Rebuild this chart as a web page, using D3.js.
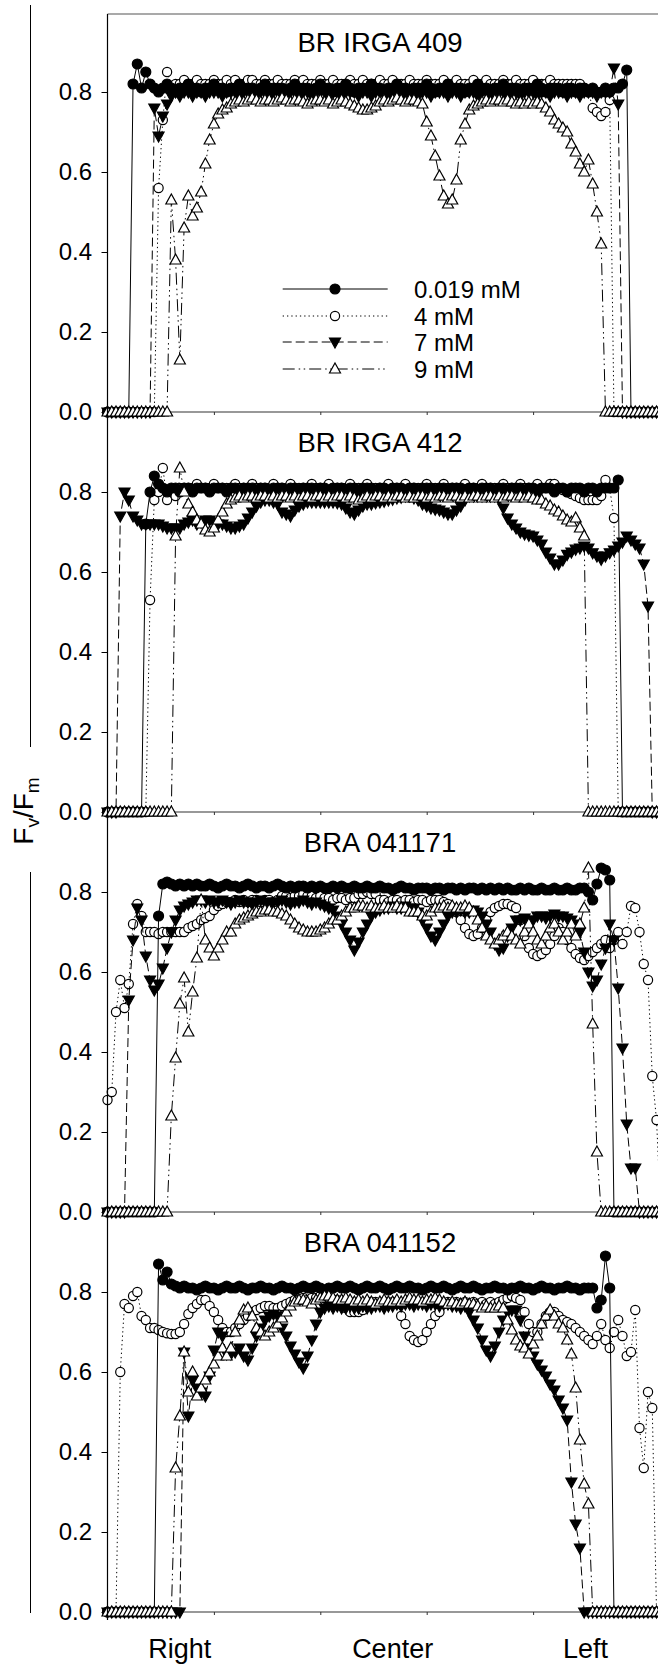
<!DOCTYPE html>
<html><head><meta charset="utf-8">
<script src="https://cdn.jsdelivr.net/npm/d3@7"></script>
<style>body{margin:0;background:#fff} svg{display:block} text{font-family:"Liberation Sans",Arial,sans-serif;fill:#000}</style>
</head><body><svg id="c" width="658" height="1666"></svg>
<script>
// ---------- data ----------
const panelTitles = ["BR IRGA 409", "BR IRGA 412", "BRA 041171", "BRA 041152"];
const seriesNames = ["0.019 mM", "4 mM", "7 mM", "9 mM"];
const yTicks = [0, 0.2, 0.4, 0.6, 0.8];
const xTicks = [25, 50, 75, 100, 125];
const xCategories = ["Right", "Center", "Left"];
const xCategoryAt = [17, 67, 112.3];

// Fv/Fm values, one per position step (index 0 = leftmost position)
const p1_019 = [
0,0,0,0,0,0,0.82,0.87,0.81,0.85,
0.82,0.81,0.80,0.81,0.82,0.81,0.80,0.81,0.81,0.82,
0.81,0.81,0.80,0.81,0.81,0.82,0.81,0.81,0.80,0.81,
0.81,0.82,0.81,0.81,0.81,0.80,0.81,0.82,0.81,0.81,
0.81,0.81,0.80,0.81,0.82,0.81,0.81,0.81,0.80,0.81,
0.82,0.81,0.81,0.80,0.81,0.81,0.82,0.81,0.80,0.81,
0.81,0.81,0.82,0.81,0.81,0.80,0.81,0.81,0.82,0.81,
0.81,0.80,0.81,0.81,0.81,0.82,0.81,0.80,0.81,0.81,
0.82,0.81,0.81,0.81,0.80,0.81,0.81,0.82,0.81,0.81,
0.80,0.81,0.81,0.82,0.81,0.81,0.81,0.80,0.81,0.81,
0.81,0.82,0.81,0.80,0.81,0.81,0.81,0.80,0.81,0.81,
0.80,0.81,0.81,0.80,0.81,0.80,0.80,0.81,0.80,0.81,
0.81,0.82,0.855,0,0,0,0,0,0,0,
0];
const p1_4 = [
0,0,0,0,0,0,0,0,0,0,
0,0,0.56,0.73,0.85,0.81,0.82,0.82,0.83,0.82,
0.82,0.83,0.82,0.82,0.82,0.83,0.82,0.82,0.83,0.82,
0.83,0.82,0.82,0.83,0.83,0.82,0.82,0.83,0.82,0.82,
0.83,0.82,0.82,0.82,0.83,0.82,0.83,0.82,0.82,0.82,
0.83,0.82,0.82,0.83,0.82,0.82,0.82,0.83,0.82,0.82,
0.83,0.82,0.82,0.82,0.83,0.82,0.82,0.83,0.82,0.82,
0.82,0.83,0.82,0.82,0.82,0.83,0.82,0.82,0.82,0.83,
0.82,0.82,0.83,0.82,0.82,0.82,0.83,0.82,0.82,0.83,
0.82,0.82,0.82,0.83,0.82,0.82,0.83,0.82,0.82,0.82,
0.83,0.82,0.82,0.82,0.83,0.82,0.82,0.82,0.82,0.82,
0.82,0.82,0.81,0.80,0.76,0.75,0.74,0.75,0.78,0,
0,0,0,0,0,0,0,0,0,0,
0];
const p1_7 = [
0,0,0,0,0,0,0,0,0,0,
0,0.76,0.69,0.74,0.77,0.79,0.80,0.79,0.80,0.80,
0.79,0.80,0.80,0.79,0.80,0.80,0.80,0.79,0.80,0.80,
0.80,0.79,0.80,0.80,0.79,0.80,0.80,0.80,0.79,0.80,
0.80,0.79,0.80,0.80,0.80,0.79,0.80,0.80,0.79,0.80,
0.80,0.80,0.79,0.80,0.80,0.79,0.80,0.80,0.80,0.79,
0.80,0.80,0.79,0.80,0.80,0.80,0.79,0.80,0.80,0.79,
0.80,0.80,0.80,0.79,0.80,0.80,0.79,0.80,0.80,0.80,
0.79,0.80,0.80,0.79,0.80,0.80,0.80,0.79,0.80,0.80,
0.79,0.80,0.80,0.80,0.79,0.80,0.80,0.79,0.80,0.80,
0.80,0.79,0.80,0.80,0.79,0.80,0.80,0.80,0.79,0.80,
0.80,0.79,0.80,0.80,0.80,0.79,0.80,0.80,0.80,0.86,
0.77,0,0,0,0,0,0,0,0,0,
0];
const p1_9 = [
0,0,0,0,0,0,0,0,0,0,
0,0,0,0,0,0.53,0.38,0.13,0.46,0.54,
0.49,0.51,0.55,0.62,0.68,0.72,0.745,0.755,0.76,0.77,
0.775,0.78,0.775,0.78,0.785,0.78,0.775,0.78,0.78,0.775,
0.78,0.785,0.78,0.775,0.78,0.78,0.775,0.77,0.775,0.78,
0.78,0.775,0.78,0.77,0.775,0.78,0.775,0.77,0.765,0.76,
0.755,0.755,0.76,0.765,0.775,0.78,0.775,0.78,0.785,0.78,
0.775,0.78,0.78,0.775,0.77,0.725,0.69,0.64,0.59,0.54,
0.52,0.53,0.58,0.68,0.72,0.755,0.765,0.77,0.775,0.78,
0.775,0.78,0.78,0.775,0.78,0.775,0.77,0.775,0.77,0.775,
0.77,0.775,0.77,0.76,0.75,0.73,0.72,0.71,0.70,0.67,
0.65,0.62,0.60,0.63,0.57,0.50,0.42,0,0,0,
0,0,0,0,0,0,0,0,0,0,
0];

const p2_019 = [
0,0,0,0,0,0,0,0,0,0.72,
0.80,0.84,0.82,0.81,0.80,0.81,0.81,0.80,0.81,0.81,
0.80,0.81,0.81,0.81,0.80,0.81,0.81,0.81,0.80,0.81,
0.81,0.80,0.81,0.81,0.81,0.80,0.81,0.81,0.80,0.81,
0.81,0.81,0.80,0.81,0.81,0.80,0.81,0.81,0.81,0.80,
0.81,0.81,0.80,0.81,0.81,0.81,0.80,0.81,0.81,0.80,
0.81,0.81,0.81,0.80,0.81,0.81,0.80,0.81,0.81,0.81,
0.80,0.81,0.81,0.80,0.81,0.81,0.81,0.80,0.81,0.81,
0.80,0.81,0.81,0.81,0.80,0.81,0.81,0.80,0.81,0.81,
0.81,0.80,0.81,0.81,0.80,0.81,0.81,0.81,0.80,0.81,
0.81,0.80,0.81,0.81,0.81,0.80,0.81,0.81,0.80,0.81,
0.81,0.81,0.80,0.81,0.81,0.80,0.81,0.81,0.81,0.81,
0.83,0,0,0,0,0,0,0,0,0,
0];
const p2_4 = [
0,0,0,0,0,0,0,0,0,0,
0.53,0.78,0.80,0.86,0.78,0.80,0.79,0.81,0.81,0.81,
0.81,0.82,0.81,0.81,0.81,0.82,0.81,0.81,0.81,0.81,
0.82,0.81,0.81,0.81,0.82,0.81,0.81,0.81,0.81,0.82,
0.81,0.81,0.81,0.82,0.81,0.81,0.81,0.81,0.82,0.81,
0.81,0.81,0.82,0.81,0.81,0.81,0.81,0.82,0.81,0.81,
0.81,0.82,0.81,0.81,0.81,0.81,0.82,0.81,0.81,0.81,
0.82,0.81,0.81,0.81,0.81,0.82,0.81,0.81,0.81,0.82,
0.81,0.81,0.81,0.81,0.82,0.81,0.81,0.81,0.82,0.81,
0.81,0.81,0.81,0.82,0.81,0.81,0.81,0.82,0.81,0.81,
0.81,0.82,0.81,0.81,0.82,0.82,0.81,0.805,0.80,0.795,
0.79,0.785,0.78,0.78,0.78,0.78,0.79,0.83,0.81,0.735,
0,0,0,0,0,0,0,0,0,0,
0];
const p2_7 = [
0,0,0,0.74,0.80,0.78,0.74,0.73,0.72,0.72,
0.72,0.72,0.72,0.715,0.71,0.71,0.71,0.71,0.72,0.725,
0.73,0.72,0.725,0.73,0.73,0.725,0.72,0.72,0.715,0.71,
0.71,0.715,0.72,0.735,0.75,0.765,0.775,0.78,0.78,0.775,
0.77,0.75,0.745,0.74,0.755,0.765,0.77,0.775,0.775,0.775,
0.775,0.775,0.775,0.775,0.773,0.77,0.76,0.75,0.745,0.755,
0.765,0.77,0.77,0.773,0.775,0.777,0.78,0.782,0.785,0.787,
0.79,0.79,0.785,0.78,0.77,0.765,0.76,0.757,0.755,0.75,
0.745,0.745,0.755,0.765,0.78,0.79,0.79,0.79,0.79,0.79,
0.79,0.79,0.782,0.76,0.735,0.72,0.71,0.70,0.695,0.692,
0.69,0.68,0.67,0.65,0.635,0.62,0.62,0.63,0.644,0.65,
0.657,0.66,0.665,0.66,0.648,0.64,0.632,0.64,0.648,0.655,
0.665,0.675,0.69,0.68,0.67,0.66,0.62,0.515,0,0,
0];
const p2_9 = [
0,0,0,0,0,0,0,0,0,0,
0,0,0,0,0,0,0.69,0.86,0.80,0.77,
0.75,0.73,0.72,0.705,0.70,0.71,0.73,0.75,0.77,0.78,
0.785,0.79,0.785,0.79,0.79,0.785,0.79,0.79,0.785,0.79,
0.785,0.79,0.79,0.785,0.79,0.785,0.79,0.79,0.785,0.79,
0.79,0.785,0.79,0.785,0.79,0.79,0.785,0.79,0.785,0.78,
0.785,0.79,0.785,0.79,0.79,0.785,0.79,0.785,0.79,0.79,
0.785,0.79,0.785,0.79,0.79,0.785,0.79,0.785,0.79,0.79,
0.785,0.79,0.79,0.785,0.79,0.785,0.79,0.79,0.785,0.79,
0.79,0.785,0.79,0.785,0.79,0.79,0.785,0.79,0.785,0.79,
0.785,0.78,0.78,0.77,0.765,0.755,0.75,0.74,0.73,0.725,
0.735,0.71,0.69,0,0,0,0,0,0,0,
0,0,0,0,0,0,0,0,0,0,
0];

const p3_019 = [
0,0,0,0,0,0,0,0,0,0,
0,0,0.74,0.82,0.825,0.82,0.815,0.82,0.815,0.82,
0.815,0.82,0.815,0.815,0.82,0.815,0.81,0.815,0.82,0.815,
0.815,0.81,0.815,0.82,0.815,0.81,0.815,0.815,0.81,0.815,
0.82,0.815,0.81,0.815,0.81,0.815,0.815,0.81,0.815,0.81,
0.815,0.81,0.81,0.815,0.81,0.815,0.81,0.81,0.815,0.81,
0.81,0.815,0.81,0.81,0.815,0.81,0.81,0.805,0.81,0.815,
0.81,0.81,0.805,0.81,0.81,0.81,0.805,0.81,0.81,0.805,
0.81,0.81,0.805,0.81,0.805,0.81,0.81,0.805,0.81,0.805,
0.81,0.805,0.81,0.805,0.81,0.805,0.805,0.81,0.805,0.81,
0.805,0.805,0.81,0.805,0.805,0.81,0.805,0.805,0.81,0.805,
0.805,0.81,0.81,0.80,0.78,0.82,0.86,0.855,0.83,0,
0,0,0,0,0,0,0,0,0,0,
0];
const p3_4 = [
0.28,0.30,0.50,0.58,0.51,0.57,0.72,0.77,0.74,0.70,
0.70,0.70,0.695,0.70,0.70,0.70,0.70,0.70,0.70,0.71,
0.715,0.72,0.73,0.735,0.74,0.755,0.765,0.77,0.775,0.775,
0.78,0.775,0.78,0.775,0.78,0.78,0.775,0.78,0.78,0.775,
0.78,0.79,0.79,0.785,0.79,0.79,0.795,0.79,0.79,0.785,
0.79,0.785,0.785,0.78,0.785,0.785,0.78,0.785,0.785,0.795,
0.795,0.80,0.795,0.795,0.78,0.78,0.775,0.78,0.78,0.775,
0.78,0.78,0.775,0.78,0.78,0.775,0.78,0.78,0.78,0.775,
0.77,0.76,0.75,0.73,0.71,0.695,0.69,0.695,0.71,0.73,
0.75,0.76,0.765,0.77,0.77,0.765,0.76,0.73,0.69,0.66,
0.645,0.64,0.645,0.655,0.67,0.69,0.71,0.70,0.68,0.66,
0.645,0.635,0.63,0.64,0.65,0.66,0.67,0.68,0.66,0.68,
0.70,0.67,0.70,0.765,0.76,0.70,0.62,0.58,0.34,0.23,
0];
const p3_7 = [
0,0,0,0,0,0.53,0.68,0.76,0.73,0.64,
0.58,0.555,0.57,0.61,0.66,0.70,0.73,0.755,0.765,0.77,
0.775,0.78,0.78,0.775,0.78,0.775,0.775,0.78,0.775,0.77,
0.775,0.78,0.775,0.775,0.77,0.775,0.78,0.775,0.77,0.775,
0.775,0.78,0.775,0.77,0.775,0.775,0.78,0.775,0.77,0.775,
0.77,0.765,0.76,0.755,0.74,0.72,0.70,0.68,0.655,0.675,
0.70,0.72,0.74,0.75,0.755,0.76,0.76,0.765,0.76,0.76,
0.765,0.76,0.76,0.75,0.73,0.71,0.69,0.68,0.70,0.72,
0.74,0.75,0.75,0.755,0.75,0.75,0.755,0.75,0.74,0.72,
0.70,0.67,0.655,0.66,0.69,0.71,0.73,0.73,0.735,0.73,
0.73,0.74,0.74,0.735,0.74,0.745,0.74,0.74,0.735,0.73,
0.72,0.70,0.65,0.60,0.565,0.58,0.62,0.66,0.72,0.68,
0.56,0.41,0.22,0.11,0.11,0,0,0,0,0,
0];
const p3_9 = [
0,0,0,0,0,0,0,0,0,0,
0,0,0,0,0,0.24,0.385,0.52,0.585,0.45,
0.55,0.635,0.78,0.68,0.66,0.64,0.66,0.68,0.70,0.70,
0.72,0.73,0.735,0.74,0.745,0.75,0.75,0.755,0.755,0.75,
0.75,0.745,0.74,0.73,0.72,0.71,0.705,0.70,0.70,0.70,
0.705,0.71,0.72,0.73,0.73,0.74,0.75,0.76,0.76,0.765,
0.765,0.76,0.765,0.76,0.76,0.765,0.76,0.76,0.765,0.76,
0.76,0.75,0.75,0.75,0.74,0.74,0.75,0.76,0.76,0.765,
0.76,0.765,0.76,0.76,0.765,0.76,0.75,0.73,0.71,0.69,
0.68,0.67,0.68,0.69,0.70,0.69,0.68,0.67,0.70,0.72,
0.70,0.68,0.67,0.69,0.71,0.72,0.70,0.68,0.70,0.72,
0.69,0.72,0.76,0.86,0.47,0.15,0,0,0,0,
0,0,0,0,0,0,0,0,0,0,
0];

const p4_019 = [
0,0,0,0,0,0,0,0,0,0,
0,0,0.87,0.83,0.85,0.82,0.815,0.81,0.815,0.81,
0.81,0.805,0.81,0.815,0.81,0.81,0.805,0.81,0.815,0.81,
0.81,0.815,0.81,0.805,0.81,0.81,0.815,0.81,0.81,0.805,
0.81,0.815,0.81,0.81,0.805,0.81,0.815,0.81,0.81,0.815,
0.81,0.805,0.81,0.81,0.815,0.81,0.81,0.815,0.81,0.805,
0.81,0.815,0.81,0.81,0.815,0.81,0.805,0.81,0.815,0.81,
0.81,0.815,0.81,0.81,0.805,0.81,0.815,0.81,0.81,0.815,
0.81,0.805,0.81,0.815,0.81,0.81,0.815,0.81,0.805,0.81,
0.81,0.815,0.81,0.81,0.805,0.81,0.81,0.815,0.81,0.81,
0.805,0.81,0.815,0.81,0.81,0.805,0.81,0.81,0.815,0.81,
0.81,0.805,0.81,0.81,0.81,0.76,0.78,0.89,0.81,0,
0,0,0,0,0,0,0,0,0,0,
0];
const p4_4 = [
0,0,0,0.60,0.77,0.76,0.79,0.80,0.74,0.73,
0.71,0.71,0.705,0.70,0.697,0.695,0.695,0.70,0.72,0.745,
0.76,0.77,0.78,0.78,0.765,0.75,0.73,0.71,0.70,0.70,
0.71,0.72,0.73,0.74,0.75,0.755,0.76,0.765,0.765,0.76,
0.76,0.765,0.77,0.775,0.78,0.78,0.785,0.78,0.785,0.785,
0.79,0.785,0.785,0.78,0.78,0.77,0.76,0.75,0.75,0.75,
0.755,0.77,0.775,0.775,0.77,0.775,0.77,0.775,0.77,0.74,
0.72,0.69,0.68,0.675,0.68,0.70,0.72,0.74,0.75,0.77,
0.775,0.77,0.775,0.77,0.775,0.77,0.775,0.77,0.775,0.77,
0.775,0.77,0.775,0.78,0.785,0.79,0.785,0.78,0.75,0.72,
0.70,0.70,0.72,0.74,0.75,0.75,0.74,0.73,0.725,0.72,
0.71,0.70,0.69,0.68,0.67,0.69,0.72,0.68,0.66,0.70,
0.73,0.69,0.64,0.65,0.755,0.46,0.36,0.55,0.51,0,
0];
const p4_7 = [
0,0,0,0,0,0,0,0,0,0,
0,0,0,0,0,0,0,0,0.65,0.49,
0.58,0.56,0.55,0.54,0.59,0.655,0.70,0.69,0.645,0.645,
0.65,0.66,0.64,0.63,0.66,0.69,0.71,0.73,0.74,0.745,
0.74,0.71,0.69,0.665,0.645,0.625,0.61,0.64,0.68,0.72,
0.75,0.76,0.765,0.76,0.765,0.76,0.76,0.765,0.76,0.76,
0.765,0.76,0.76,0.765,0.765,0.76,0.765,0.765,0.77,0.765,
0.77,0.77,0.765,0.77,0.77,0.765,0.77,0.77,0.765,0.77,
0.77,0.765,0.765,0.76,0.765,0.75,0.73,0.71,0.68,0.655,
0.64,0.665,0.70,0.73,0.75,0.755,0.755,0.73,0.69,0.66,
0.64,0.62,0.605,0.59,0.57,0.555,0.53,0.51,0.48,0.325,
0.22,0.16,0,0,0,0,0,0,0,0,
0,0,0,0,0,0,0,0,0,0,
0];
const p4_9 = [
0,0,0,0,0,0,0,0,0,0,
0,0,0,0,0,0,0.36,0.49,0.65,0.55,
0.60,0.54,0.56,0.58,0.60,0.62,0.64,0.66,0.64,0.66,
0.70,0.73,0.755,0.76,0.74,0.71,0.70,0.69,0.70,0.71,
0.72,0.735,0.75,0.765,0.775,0.78,0.78,0.775,0.77,0.78,
0.785,0.79,0.79,0.785,0.78,0.78,0.785,0.78,0.775,0.78,
0.775,0.78,0.775,0.77,0.775,0.78,0.775,0.775,0.78,0.775,
0.78,0.785,0.78,0.78,0.775,0.78,0.78,0.785,0.78,0.775,
0.77,0.775,0.77,0.77,0.775,0.77,0.77,0.765,0.76,0.765,
0.76,0.76,0.765,0.76,0.73,0.705,0.68,0.665,0.66,0.645,
0.67,0.69,0.72,0.74,0.755,0.74,0.72,0.71,0.68,0.645,
0.56,0.43,0.32,0.27,0,0,0,0,0,0,
0,0,0,0,0,0,0,0,0,0,
0];

const panelSeries = [
  [p1_019, p1_4, p1_7, p1_9],
  [p2_019, p2_4, p2_7, p2_9],
  [p3_019, p3_4, p3_7, p3_9],
  [p4_019, p4_4, p4_7, p4_9]
];

// ---------- drawing ----------
const W = 658, H = 1666;
const svg = d3.select("#c");
svg.append("rect").attr("width", W).attr("height", H).attr("fill", "#fff");

const x = d3.scaleLinear().domain([0, 125]).range([107.5, 639.5]);
const panelBottoms = [412, 812, 1212, 1612];
const panelH = 400;

const styles = [
  { dash: null, shape: "circle", fill: "#000", r: 5 },
  { dash: "1.3,3", shape: "circle", fill: "#fff", r: 4.6 },
  { dash: "9,4", shape: "down", fill: "#000" },
  { dash: "12,4,1.5,3.5,1.5,4", shape: "up", fill: "#fff" }
];
const drawOrder = [1, 0, 2, 3];
const triUp = "M0,-6L5.5,4L-5.5,4Z";
const triDown = "M0,6L5.5,-4L-5.5,-4Z";

function drawMarker(g, st, cx, cy) {
  if (st.shape === "circle") {
    g.append("circle").attr("cx", cx).attr("cy", cy).attr("r", st.r)
      .attr("fill", st.fill).attr("stroke", "#000").attr("stroke-width", 1.2);
  } else {
    g.append("path").attr("d", st.shape === "up" ? triUp : triDown)
      .attr("transform", `translate(${cx},${cy})`)
      .attr("fill", st.fill).attr("stroke", "#000").attr("stroke-width", 1.2);
  }
}

// y-label bracket lines
svg.append("line").attr("x1", 30.5).attr("x2", 30.5).attr("y1", 5).attr("y2", 747)
  .attr("stroke", "#000").attr("stroke-width", 1);
svg.append("line").attr("x1", 30.5).attr("x2", 30.5).attr("y1", 872).attr("y2", 1613)
  .attr("stroke", "#000").attr("stroke-width", 1);

const yl = svg.append("text").attr("transform", "translate(33,811) rotate(-90)")
  .attr("text-anchor", "middle").attr("font-size", 28);
yl.append("tspan").text("F");
yl.append("tspan").attr("font-size", 19).attr("dy", 6).text("v");
yl.append("tspan").attr("dy", -6).text("/F");
yl.append("tspan").attr("font-size", 19).attr("dy", 6).text("m");

panelSeries.forEach((series, p) => {
  const b = panelBottoms[p];
  const y = d3.scaleLinear().domain([0, 1]).range([b, b - panelH]);
  const g = svg.append("g");

  // frame lines
  if (p === 0) {
    g.append("line").attr("x1", x(0)).attr("x2", W + 5).attr("y1", b - panelH + 2).attr("y2", b - panelH + 2)
      .attr("stroke", "#555").attr("stroke-width", 1.2);
  }
  g.append("line").attr("x1", x(0)).attr("x2", W + 5).attr("y1", y(0)).attr("y2", y(0))
    .attr("stroke", "#333").attr("stroke-width", 1.2);

  // x ticks (no labels)
  const xa = g.append("g").attr("transform", `translate(0,${b})`)
    .call(d3.axisBottom(x).tickValues(xTicks).tickSize(3).tickFormat(""));
  xa.select(".domain").remove();
  xa.selectAll("line").attr("stroke", "#333");

  // y axis
  const ya = g.append("g").attr("transform", `translate(${x(0)},0)`)
    .call(d3.axisLeft(y).tickValues(yTicks).tickFormat(d3.format(".1f")).tickSize(6).tickPadding(9.5));
  ya.select(".domain").remove();
  ya.selectAll("text").attr("font-size", 24).attr("font-family", '"Liberation Sans",Arial,sans-serif');

  // title
  g.append("text").attr("x", 380).attr("y", b - panelH + 40).attr("text-anchor", "middle")
    .attr("font-size", 27.5).text(panelTitles[p]);

  // series
  drawOrder.forEach(s => {
    const vals = series[s];
    const st = styles[s];
    const line = d3.line().x((d, i) => x(i)).y(d => y(d));
    const path = g.append("path").datum(vals).attr("d", line)
      .attr("fill", "none").attr("stroke", "#000").attr("stroke-width", 1);
    if (st.dash) path.attr("stroke-dasharray", st.dash);
    const mg = g.append("g");
    vals.forEach((v, i) => drawMarker(mg, st, x(i), y(v)));
  });

  // legend in first panel
  if (p === 0) {
    const ly = [289, 316, 342, 369];
    seriesNames.forEach((name, s) => {
      const st = styles[s];
      const l = g.append("line").attr("x1", 282.7).attr("x2", 387.7)
        .attr("y1", ly[s]).attr("y2", ly[s]).attr("stroke", "#000").attr("stroke-width", 1);
      if (st.dash) l.attr("stroke-dasharray", st.dash);
      drawMarker(g, st, 335, ly[s]);
      g.append("text").attr("x", 414).attr("y", ly[s] + 9).attr("font-size", 24).text(name);
    });
  }
});

// continuous y axis line
svg.append("line").attr("x1", x(0)).attr("x2", x(0)).attr("y1", panelBottoms[0] - panelH + 2)
  .attr("y2", panelBottoms[3] + 8).attr("stroke", "#000").attr("stroke-width", 1.2);

// category labels
xCategories.forEach((c, k) => {
  svg.append("text").attr("x", x(xCategoryAt[k])).attr("y", 1658)
    .attr("text-anchor", "middle").attr("font-size", 27).text(c);
});
</script>
</body></html>
